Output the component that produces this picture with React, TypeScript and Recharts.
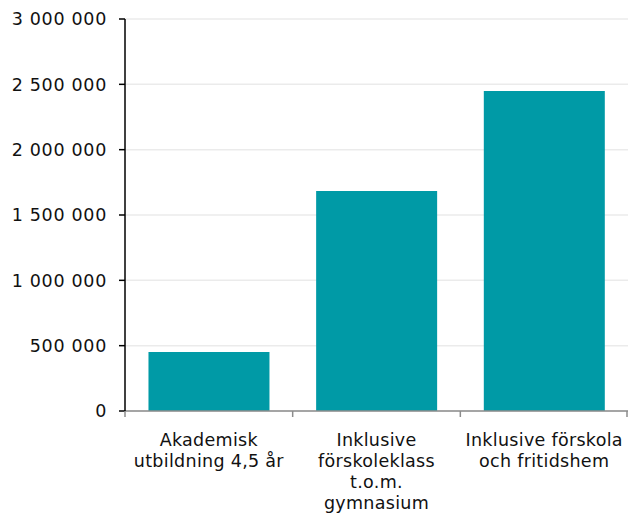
import { BarChart, Bar, XAxis, YAxis, CartesianGrid } from 'recharts';

// Category labels (line breaks as in the original)
const categories = [
  'Akademisk\nutbildning 4,5 år',
  'Inklusive\nförskoleklass\nt.o.m.\ngymnasium',
  'Inklusive förskola\noch fritidshem',
];

const values = [452000, 1683000, 2449000];

const yTicks = [0, 500000, 1000000, 1500000, 2000000, 2500000, 3000000];

const data = categories.map((name, i) => ({ name, value: values[i] }));

const FONT = '"DejaVu Sans", Verdana, sans-serif';
const TEAL = '#009AA6';
const AXIS_GRAY = '#8c8c8c';

const CHART_W = 628;
const Y_AXIS_W = 125;
const BAND = (CHART_W - Y_AXIS_W) / categories.length;

const formatNumber = (v: number) =>
  String(v).replace(/\B(?=(\d{3})+(?!\d))/g, ' ');

// x tick: label lines + tick marks at the category boundaries
function XTick({ x, y, payload, index }: any) {
  const lines = String(payload.value).split('\n');
  const left = x - BAND / 2;
  const right = Math.min(x + BAND / 2, CHART_W - 1);
  return (
    <g>
      <line x1={left} x2={left} y1={y - 6} y2={y} stroke={AXIS_GRAY} strokeWidth={1.5} />
      {index === categories.length - 1 && (
        <line x1={right} x2={right} y1={y - 6} y2={y} stroke={AXIS_GRAY} strokeWidth={1.5} />
      )}
      <text
        x={x}
        y={y + 29}
        textAnchor="middle"
        fill="#111"
        fontSize={17.5}
        fontFamily={FONT}
        letterSpacing={0.3}
      >
        {lines.map((line, i) => (
          <tspan key={i} x={x} dy={i === 0 ? 0 : 21}>
            {line}
          </tspan>
        ))}
      </text>
    </g>
  );
}

export default function App() {
  return (
    <div style={{ position: 'absolute', left: 0, top: 0, background: '#fff' }}>
      <BarChart
        width={CHART_W}
        height={515}
        data={data}
        margin={{ top: 19, right: 0, bottom: 0, left: 0 }}
        barCategoryGap="14%"
      >
        <CartesianGrid vertical={false} stroke="#ebebeb" strokeWidth={1.5} />
        <XAxis
          dataKey="name"
          height={104}
          interval={0}
          stroke={AXIS_GRAY}
          strokeWidth={1.5}
          tickLine={false}
          tickSize={6}
          tickMargin={0}
          tick={<XTick />}
        />
        <YAxis
          width={Y_AXIS_W}
          domain={[0, 3000000]}
          ticks={yTicks}
          tickFormatter={formatNumber}
          stroke="#000"
          strokeWidth={1.5}
          tickSize={6}
          tickMargin={12}
          tick={{ fill: '#111', fontSize: 17.5, fontFamily: FONT, letterSpacing: 0.7 }}
        />
        <Bar dataKey="value" fill={TEAL} isAnimationActive={false} />
      </BarChart>
    </div>
  );
}
